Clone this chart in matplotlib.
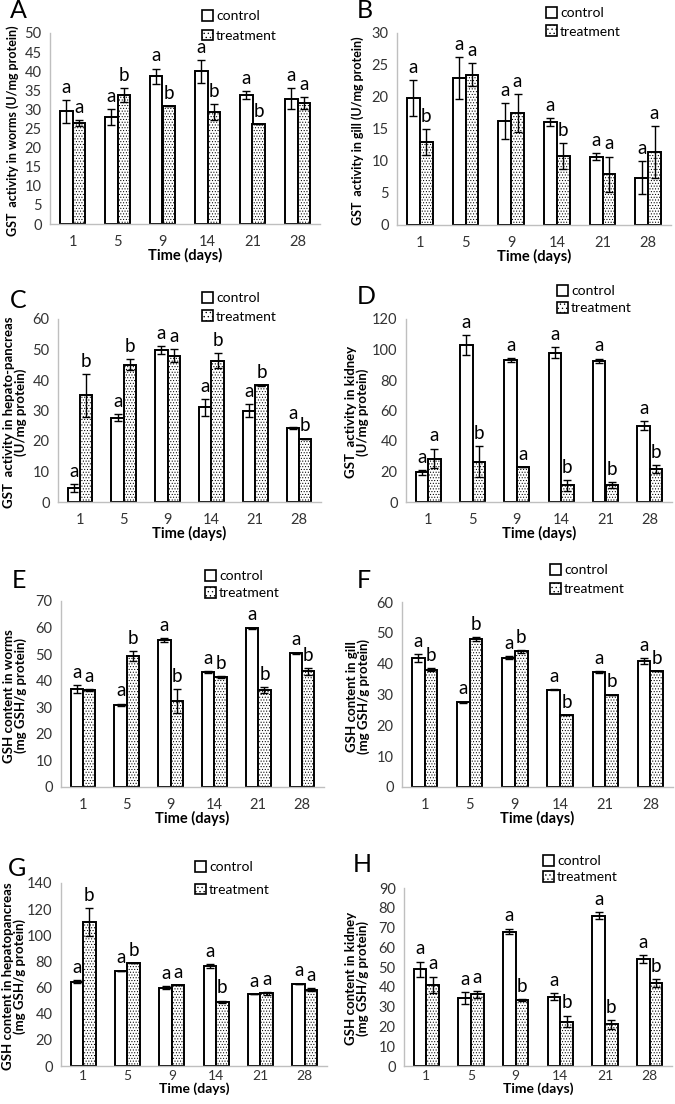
import matplotlib

matplotlib.use("Agg")
import matplotlib.pyplot as plt
import numpy as np
from matplotlib.patches import Patch

plt.rcParams["font.family"] = ["Lato", "DejaVu Sans"]
plt.rcParams["hatch.linewidth"] = 0.45

W, H = 675, 1104
days = ["1", "5", "9", "14", "21", "28"]

# GST activity
gst_worms_ctrl = [29.5, 28.0, 38.7, 40.0, 33.7, 32.8]
gst_worms_ctrl_err = [3.0, 2.0, 2.0, 3.0, 1.0, 2.7]
gst_worms_trt = [26.4, 33.8, 30.8, 29.3, 26.1, 31.7]
gst_worms_trt_err = [0.7, 1.8, 0.0, 2.0, 0.0, 1.5]
gst_worms_letters = ["a", "b", "b", "b", "b", "a"]

gst_gill_ctrl = [19.8, 23.0, 16.3, 16.1, 10.7, 7.4]
gst_gill_ctrl_err = [2.8, 3.3, 2.8, 0.6, 0.5, 2.6]
gst_gill_trt = [13.0, 23.5, 17.5, 10.8, 7.9, 11.4]
gst_gill_trt_err = [2.0, 1.8, 3.0, 2.0, 2.8, 4.1]
gst_gill_letters = ["b", "a", "a", "b", "a", "a"]

gst_hp_ctrl = [4.6, 27.6, 49.8, 31.0, 30.0, 24.3]
gst_hp_ctrl_err = [1.2, 1.2, 1.2, 2.8, 2.2, 0.4]
gst_hp_trt = [35.0, 45.0, 48.0, 46.3, 38.2, 20.8]
gst_hp_trt_err = [7.0, 1.8, 2.2, 2.5, 0.2, 0.0]
gst_hp_letters = ["b", "b", "a", "b", "b", "b"]

gst_kidney_ctrl = [19.5, 103.0, 93.0, 98.0, 92.5, 50.0]
gst_kidney_ctrl_err = [1.5, 6.5, 1.5, 3.5, 1.5, 3.0]
gst_kidney_trt = [28.5, 26.5, 23.0, 11.0, 11.0, 21.5]
gst_kidney_trt_err = [6.5, 10.0, 0.0, 3.5, 2.0, 2.5]
gst_kidney_letters = ["a", "b", "a", "b", "b", "b"]

# GSH content
gsh_worms_ctrl = [36.8, 30.9, 55.3, 43.2, 59.8, 50.3]
gsh_worms_ctrl_err = [1.5, 0.5, 0.8, 0.3, 0.2, 0.3]
gsh_worms_trt = [36.5, 49.3, 32.2, 41.3, 36.5, 43.5]
gsh_worms_trt_err = [0.5, 2.0, 4.5, 0.3, 1.0, 1.2]
gsh_worms_letters = ["a", "b", "b", "b", "b", "b"]

gsh_gill_ctrl = [41.8, 27.5, 42.0, 31.5, 37.3, 40.8]
gsh_gill_ctrl_err = [1.3, 0.2, 0.5, 0.2, 0.4, 1.0]
gsh_gill_trt = [38.0, 48.0, 44.0, 23.3, 30.0, 37.7]
gsh_gill_trt_err = [0.5, 0.6, 0.4, 0.0, 0.0, 0.0]
gsh_gill_letters = ["b", "b", "b", "b", "b", "b"]

gsh_hp_ctrl = [64.5, 73.0, 60.0, 76.5, 55.0, 63.0]
gsh_hp_ctrl_err = [1.0, 0.0, 1.0, 1.5, 0.0, 0.0]
gsh_hp_trt = [110.0, 78.5, 62.0, 49.0, 55.5, 58.5]
gsh_hp_trt_err = [10.5, 0.0, 0.0, 1.0, 1.0, 1.0]
gsh_hp_letters = ["b", "b", "a", "b", "a", "a"]

gsh_kidney_ctrl = [49.0, 34.5, 68.0, 35.0, 76.0, 54.0]
gsh_kidney_ctrl_err = [3.8, 3.0, 1.5, 1.7, 1.8, 2.0]
gsh_kidney_trt = [41.0, 36.3, 33.5, 22.5, 21.0, 42.0]
gsh_kidney_trt_err = [4.2, 1.8, 0.5, 3.0, 2.2, 2.0]
gsh_kidney_letters = ["a", "a", "b", "b", "b", "b"]

panels = [
    # tag, ctrl, ctrl_err, trt, trt_err, letters, ymax, step, ylabel,
    # axes box (px: left, top, right, bottom), tag pos, ylabel x, legend (x, top y, spacing)
    ("A", gst_worms_ctrl, gst_worms_ctrl_err, gst_worms_trt, gst_worms_trt_err, gst_worms_letters,
     50, 5, "GST  activity in worms (U/mg protein)",
     (50, 33, 320, 224), (10, 11), 13, (202, 10, 0.55)),
    ("B", gst_gill_ctrl, gst_gill_ctrl_err, gst_gill_trt, gst_gill_trt_err, gst_gill_letters,
     30, 5, "GST  activity in gill (U/mg protein)",
     (397, 33, 671, 225), (357, 10), 358, (546, 7, 0.45)),
    ("C", gst_hp_ctrl, gst_hp_ctrl_err, gst_hp_trt, gst_hp_trt_err, gst_hp_letters,
     60, 10, "GST  activity in hepato-pancreas\n(U/mg protein)",
     (58, 319, 321, 502), (10, 300), 15, (202, 292, 0.45)),
    ("D", gst_kidney_ctrl, gst_kidney_ctrl_err, gst_kidney_trt, gst_kidney_trt_err, gst_kidney_letters,
     120, 20, "GST  activity in kidney\n(U/mg protein)",
     (406, 319, 672, 502), (357, 297), 357, (557, 285, 0.35)),
    ("E", gsh_worms_ctrl, gsh_worms_ctrl_err, gsh_worms_trt, gsh_worms_trt_err, gsh_worms_letters,
     70, 10, "GSH content in worms\n(mg GSH/g protein)",
     (61, 601, 324, 787), (12, 580), 15, (205, 570, 0.35)),
    ("F", gsh_gill_ctrl, gsh_gill_ctrl_err, gsh_gill_trt, gsh_gill_trt_err, gsh_gill_letters,
     60, 10, "GSH content in gill\n(mg GSH/g protein)",
     (402, 602, 673, 787), (357, 580), 358, (550, 564, 0.5)),
    ("G", gsh_hp_ctrl, gsh_hp_ctrl_err, gsh_hp_trt, gsh_hp_trt_err, gsh_hp_letters,
     140, 20, "GSH content in hepatopancreas\n(mg GSH/g protein)",
     (61, 883, 327, 1066), (8, 868), 14, (195, 861, 0.75)),
    ("H", gsh_kidney_ctrl, gsh_kidney_ctrl_err, gsh_kidney_trt, gsh_kidney_trt_err, gsh_kidney_letters,
     90, 10, "GSH content in kidney\n(mg GSH/g protein)",
     (404, 888, 672, 1066), (353, 865), 357, (543, 855, 0.3)),
]

fig = plt.figure(figsize=(W / 100, H / 100), dpi=100)
grid_color = "#BFBFBF"
bw = 0.28
x = np.arange(len(days))

for (tag, ctrl, ctrl_err, trt, trt_err, letters, ymax, step, ylabel,
     box, tag_pos, ylab_x, leg) in panels:
    l, t, r, b = box
    ax = fig.add_axes([l / W, 1 - b / H, (r - l) / W, (b - t) / H])
    ax.bar(x - bw / 2, ctrl, bw, color="white", edgecolor="black", linewidth=1.4, zorder=2)
    ax.bar(x + bw / 2, trt, bw, color="white", edgecolor="black", linewidth=1.4,
           hatch="......", zorder=2)
    ax.errorbar(x - bw / 2, ctrl, yerr=ctrl_err, fmt="none", ecolor="black",
                elinewidth=1, capsize=3, capthick=1, zorder=3)
    ax.errorbar(x + bw / 2, trt, yerr=trt_err, fmt="none", ecolor="black",
                elinewidth=1, capsize=3, capthick=1, zorder=3)
    for i in range(len(days)):
        ax.annotate("a", (x[i] - bw / 2, ctrl[i] + ctrl_err[i]), xytext=(0, 3),
                    textcoords="offset points", ha="center", va="bottom", fontsize=13.5)
        ax.annotate(letters[i], (x[i] + bw / 2, trt[i] + trt_err[i]), xytext=(0, 3),
                    textcoords="offset points", ha="center", va="bottom", fontsize=13.5)

    bottom_row = b > 1000
    ax.set_xlim(-0.5, len(days) - 0.5)
    ax.set_ylim(0, ymax)
    ax.set_yticks(np.arange(0, ymax + step / 2, step))
    ax.set_xticks(x)
    ax.set_xticklabels(days)
    ax.tick_params(length=0, labelsize=10.5, colors="#333333")
    ax.tick_params(axis="y", pad=6)
    if bottom_row:
        ax.tick_params(axis="x", pad=3, labelsize=10)
    else:
        ax.tick_params(axis="x", pad=8)
    for side in ("top", "right"):
        ax.spines[side].set_visible(False)
    for side in ("left", "bottom"):
        ax.spines[side].set_color(grid_color)
        ax.spines[side].set_linewidth(1)
    ax.set_xlabel("Time (days)", fontsize=10 if bottom_row else 10.5, fontweight="bold",
                  labelpad=0 if bottom_row else -1)
    ylab_size = 9.5 if "\n" in ylabel else 9
    ax.set_ylabel(ylabel, fontsize=ylab_size, fontweight="bold", linespacing=1.0, va="center")
    ax.yaxis.set_label_coords((ylab_x - l) / (r - l), 0.49)

    fig.text(tag_pos[0] / W, 1 - tag_pos[1] / H, tag, fontsize=18, va="center", ha="left")

    handles = [Patch(facecolor="white", edgecolor="black", linewidth=1.2),
               Patch(facecolor="white", edgecolor="black", linewidth=1.2, hatch="....")]
    fig.legend(handles, ["control", "treatment"], loc="upper left",
               bbox_to_anchor=(leg[0] / W, 1 - leg[1] / H), frameon=False, fontsize=10,
               borderpad=0, borderaxespad=0, handlelength=0.8, handleheight=0.8,
               handletextpad=0.2, labelspacing=leg[2])

fig.savefig("out.png", dpi=100)
plt.close(fig)
